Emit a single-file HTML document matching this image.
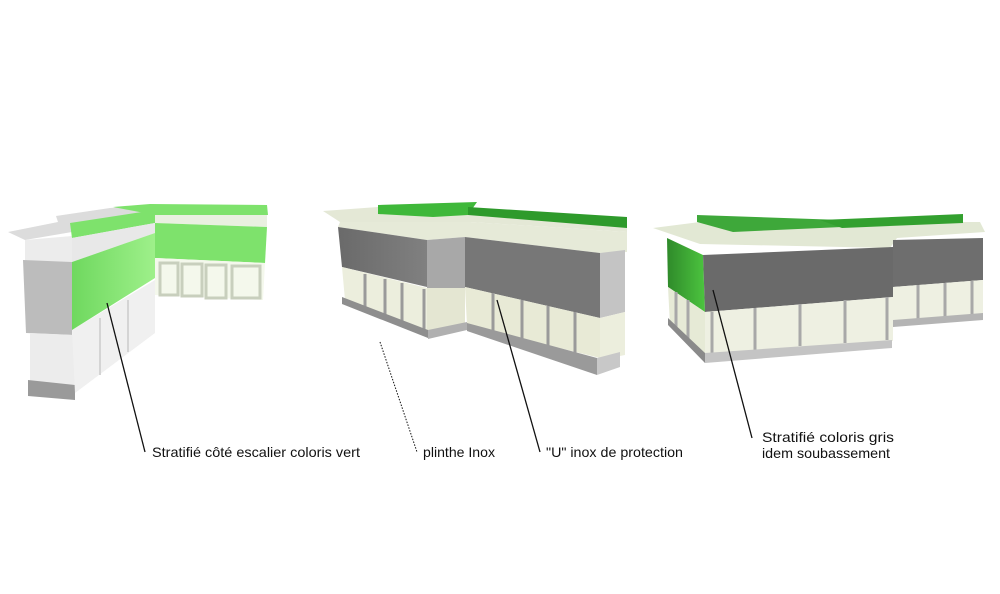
<!DOCTYPE html>
<html><head><meta charset="utf-8"><style>
html,body{margin:0;padding:0;background:#fff;}
svg{display:block}
text{font-family:"Liberation Sans",Arial,sans-serif;font-size:14px;fill:#111}
</style></head><body>
<svg width="1000" height="594" viewBox="0 0 1000 594" xmlns="http://www.w3.org/2000/svg">
<defs>
<linearGradient id="g1" x1="0" y1="0" x2="1" y2="0"><stop offset="0" stop-color="#6fd85f"/><stop offset="1" stop-color="#9ef08a"/></linearGradient>
<linearGradient id="gd" x1="0" y1="0" x2="1" y2="0"><stop offset="0" stop-color="#6a6a6a"/><stop offset="1" stop-color="#808080"/></linearGradient>
<linearGradient id="gg" x1="0" y1="0" x2="1" y2="0"><stop offset="0" stop-color="#2f8a2a"/><stop offset="1" stop-color="#4cc43f"/></linearGradient>
</defs>
<rect width="1000" height="594" fill="#fff"/>

<!-- MODEL 1 -->
<polygon points="8,232 58,222 56,216 110,208 150,205 155,215 72,232 25,240" fill="#dcdcdc"/>
<polygon points="25,240 72,236 72,262 25,262" fill="#ececec"/>
<polygon points="23,260 72,262 72,335 26,333" fill="#bcbcbc"/>
<polygon points="30,333 75,335 75,393 30,388" fill="#ececec"/>
<polygon points="28,380 75,385 75,400 28,396" fill="#9a9a9a"/>
<polygon points="72,330 155,280 155,333 75,393" fill="#f0f0f0"/>
<line x1="100" y1="318" x2="100" y2="375" stroke="#d4d4d4" stroke-width="2"/>
<line x1="128" y1="300" x2="128" y2="352" stroke="#d4d4d4" stroke-width="2"/>
<polygon points="70,223 155,210 155,223 72,238" fill="#7ee26c"/>
<polygon points="72,238 155,223 155,233 72,262" fill="#e8e8e8"/>
<polygon points="72,262 155,233 155,278 72,330" fill="url(#g1)"/>
<polygon points="113,207 150,204 267,205 268,215 155,215" fill="#7ee26c"/>
<polygon points="155,215 267,215 267,227 155,223" fill="#e9f0e0"/>
<polygon points="155,223 267,227 265,263 155,258" fill="#7ee26c"/>
<polygon points="155,258 265,263 263,300 155,295" fill="#f4f8ec"/>
<g fill="none" stroke="#c8cfbd" stroke-width="3">
<rect x="160" y="263" width="18" height="32"/><rect x="182" y="264" width="20" height="32"/><rect x="206" y="265" width="20" height="33"/><rect x="232" y="266" width="28" height="32"/>
</g>

<!-- MODEL 2 -->
<polygon points="323,211 378,207 468,209 627,224 627,232 470,222 340,222" fill="#e4e8d6"/>
<polygon points="378,205 477,202 468,215 433,217 378,214" fill="#3fb83a"/>
<polygon points="468,207 627,217 627,228 468,215" fill="#2e9a2b"/>
<polygon points="340,222 470,222 627,232 627,252 600,253 465,237 427,240 338,227" fill="#e6ead8"/>
<polygon points="338,227 427,240 427,287 342,267" fill="url(#gd)"/>
<polygon points="427,240 465,237 465,288 427,290" fill="#a8a8a8"/>
<polygon points="465,237 600,253 600,318 465,287" fill="#777"/>
<polygon points="600,253 625,250 625,312 600,318" fill="#c4c4c4"/>
<polygon points="342,267 427,288 427,330 345,300" fill="#eceedd"/>
<polygon points="427,288 465,288 465,328 427,332" fill="#e4e6d2"/>
<polygon points="465,287 600,318 600,358 467,325" fill="#e8ead6"/>
<polygon points="600,318 625,312 625,355 600,360" fill="#eceedd"/>
<g stroke="#9a9a9a" stroke-width="3">
<line x1="365" y1="274" x2="365" y2="308"/><line x1="385" y1="279" x2="385" y2="315"/><line x1="402" y1="283" x2="402" y2="322"/><line x1="424" y1="289" x2="424" y2="330"/>
<line x1="493" y1="293" x2="493" y2="332"/><line x1="522" y1="300" x2="522" y2="340"/><line x1="548" y1="306" x2="548" y2="346"/><line x1="575" y1="312" x2="575" y2="353"/>
</g>
<polygon points="342,297 428,330 428,338 342,304" fill="#8e8e8e"/>
<polygon points="428,330 467,322 467,330 428,339" fill="#b0b0b0"/>
<polygon points="467,323 597,358 597,375 467,331" fill="#9a9a9a"/>
<polygon points="597,358 620,352 620,367 597,375" fill="#c8c8c8"/>

<!-- MODEL 3 -->
<polygon points="653,228 700,222 980,222 985,232 897,238 890,248 700,244" fill="#e2e8d4"/>
<polygon points="697,215 842,220 842,227 733,232 697,222" fill="#3ea83a"/>
<polygon points="820,220 963,214 963,223 842,228" fill="#33a02f"/>
<polygon points="667,238 703,255 705,312 668,287" fill="url(#gg)"/>
<polygon points="703,255 893,247 893,297 705,312" fill="#6a6a6a"/>
<polygon points="893,240 983,238 983,280 893,287" fill="#6e6e6e"/>
<polygon points="668,287 705,312 705,355 670,325" fill="#e6ead6"/>
<polygon points="705,312 893,297 893,341 705,354" fill="#eef0e2"/>
<polygon points="893,287 983,280 983,315 893,322" fill="#eef0e2"/>
<g stroke="#a8a8a8" stroke-width="3">
<line x1="676" y1="292" x2="676" y2="330"/><line x1="688" y1="300" x2="688" y2="342"/>
<line x1="712" y1="312" x2="712" y2="353"/><line x1="755" y1="308" x2="755" y2="350"/><line x1="800" y1="304" x2="800" y2="346"/><line x1="845" y1="300" x2="845" y2="343"/><line x1="887" y1="297" x2="887" y2="340"/>
<line x1="918" y1="285" x2="918" y2="320"/><line x1="945" y1="283" x2="945" y2="318"/><line x1="972" y1="281" x2="972" y2="316"/>
</g>
<polygon points="668,318 705,353 705,363 668,325" fill="#8a8a8a"/>
<polygon points="705,353 892,340 892,348 705,363" fill="#c4c4c4"/>
<polygon points="893,320 983,313 983,320 893,327" fill="#b4b4b4"/>

<!-- leaders -->
<g stroke="#111" stroke-width="1.3" fill="none">
<line x1="107" y1="303" x2="145" y2="452"/>
<line x1="380" y1="342" x2="417" y2="452" stroke-dasharray="1.5,1.5" stroke-width="1"/>
<line x1="497" y1="300" x2="540" y2="452"/>
<line x1="713" y1="290" x2="752" y2="438"/>
</g>

<text x="152" y="457" textLength="208" lengthAdjust="spacingAndGlyphs">Stratifié côté escalier coloris vert</text>
<text x="423" y="457" textLength="72" lengthAdjust="spacingAndGlyphs">plinthe Inox</text>
<text x="546" y="457" textLength="137" lengthAdjust="spacingAndGlyphs">"U" inox de protection</text>
<text x="762" y="442" textLength="132" lengthAdjust="spacingAndGlyphs">Stratifié coloris gris</text>
<text x="762" y="458" textLength="128" lengthAdjust="spacingAndGlyphs">idem soubassement</text>
</svg>
</body></html>
